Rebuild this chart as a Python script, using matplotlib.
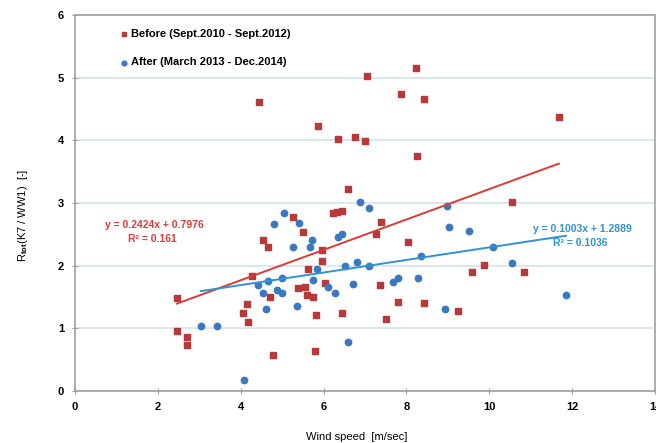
import numpy as np
import matplotlib
matplotlib.use("Agg")
import matplotlib.pyplot as plt

plt.rcParams['font.family'] = ['Liberation Sans', 'DejaVu Sans']
plt.rcParams['font.weight'] = 'bold'
plt.rcParams['mathtext.fontset'] = 'custom'
plt.rcParams['mathtext.rm'] = 'Liberation Sans:bold'
plt.rcParams['mathtext.it'] = 'Liberation Sans:bold'
plt.rcParams['mathtext.bf'] = 'Liberation Sans:bold'

# Before (Sept.2010 - Sept.2012)
before_wind = [2.46, 2.46, 2.70, 2.70, 4.05, 4.15, 4.17, 4.27, 4.44, 4.54, 4.66, 4.70, 4.78,
               5.26, 5.38, 5.50, 5.55, 5.60, 5.62, 5.74, 5.79, 5.81, 5.86, 5.96, 5.96, 6.03,
               6.23, 6.32, 6.35, 6.44, 6.45, 6.59, 6.76, 7.00, 7.04, 7.26, 7.38, 7.36, 7.50,
               7.79, 7.86, 8.03, 8.23, 8.25, 8.42, 8.42, 9.24, 9.58, 9.87, 10.54, 10.83, 11.68]
before_ratio = [1.48, 0.96, 0.86, 0.73, 1.24, 1.39, 1.10, 1.83, 4.61, 2.41, 2.30, 1.50, 0.58,
                2.78, 1.64, 2.54, 1.66, 1.53, 1.95, 1.50, 0.64, 1.21, 4.23, 2.25, 2.07, 1.72,
                2.84, 2.86, 4.02, 2.87, 1.24, 3.22, 4.05, 3.99, 5.02, 2.50, 2.69, 1.69, 1.15,
                1.42, 4.74, 2.38, 5.15, 3.75, 4.66, 1.41, 1.27, 1.90, 2.01, 3.01, 1.90, 4.37]

# After (March 2013 - Dec.2014)
after_wind = [3.04, 3.43, 4.08, 4.42, 4.54, 4.60, 4.66, 4.80, 4.87, 5.00, 5.00, 5.04, 5.26,
              5.35, 5.40, 5.67, 5.72, 5.75, 5.84, 6.10, 6.27, 6.35, 6.44, 6.51, 6.58, 6.71,
              6.80, 6.88, 7.09, 7.09, 7.67, 7.79, 8.27, 8.35, 8.93, 8.97, 9.02, 9.50, 10.10,
              10.54, 11.85]
after_ratio = [1.04, 1.04, 0.17, 1.69, 1.56, 1.31, 1.76, 2.66, 1.61, 1.81, 1.56, 2.84, 2.30,
               1.35, 2.68, 2.30, 2.41, 1.77, 1.95, 1.66, 1.56, 2.46, 2.50, 1.99, 0.78, 1.71,
               2.06, 3.02, 2.92, 2.00, 1.74, 1.80, 1.80, 2.15, 1.31, 2.96, 2.61, 2.55, 2.30,
               2.04, 1.53]

# linear trendlines (slope, intercept, R2) as printed on the chart
before_fit = (0.2424, 0.7976, 0.161)
after_fit = (0.1003, 1.2889, 0.1036)

red = '#b8393a'
blue = '#3a78c0'
red_line = '#dd3a34'
blue_line = '#3192d2'
grey = '#a0a0a0'

fig = plt.figure(figsize=(6.56, 4.43), dpi=100)
ax = fig.add_axes([75 / 656, 1 - 391 / 443, 580 / 656, 376 / 443])

ax.scatter(before_wind, before_ratio, s=21, marker='s', color=red, zorder=3,
           label='Before (Sept.2010 - Sept.2012)')
ax.scatter(after_wind, after_ratio, s=21, marker='o', color=blue, zorder=3,
           label='After (March 2013 - Dec.2014)')

xb = np.array([min(before_wind), max(before_wind)])
ax.plot(xb, before_fit[0] * xb + before_fit[1], color=red_line, lw=1.4, zorder=4)
xa = np.array([min(after_wind), max(after_wind)])
ax.plot(xa, after_fit[0] * xa + after_fit[1], color=blue_line, lw=1.4, zorder=4)

ax.text(1.91, 2.65, 'y = %.4fx + %.4f' % (before_fit[0], before_fit[1]), color=red_line,
        fontsize=7.5, ha='center', va='center')
ax.text(1.86, 2.43, 'R² = %.3f' % before_fit[2], color=red_line, fontsize=7.5,
        ha='center', va='center')
ax.text(12.24, 2.585, 'y = %.4fx + %.4f' % (after_fit[0], after_fit[1]), color=blue_line,
        fontsize=7.5, ha='center', va='center')
ax.text(12.19, 2.36, 'R² = %.4f' % after_fit[2], color=blue_line, fontsize=7.5,
        ha='center', va='center')

ax.set_xlim(0, 14)
ax.set_ylim(0, 6)
ax.set_xticks(range(0, 15, 2))
ax.set_yticks(range(0, 7))
ax.grid(axis='y', color='#d6e3ea', lw=1.2)
ax.set_axisbelow(True)
for s in ax.spines.values():
    s.set_color(grey)
    s.set_linewidth(1.2)
ax.tick_params(direction='inout', length=4, color=grey, labelsize=8, pad=6)

ax.set_xlabel('Wind speed  [m/sec]', fontsize=8)
ax.set_ylabel('R$_{tot}$(K7 / WW1)  [-]', fontsize=8)
ax.xaxis.set_label_coords(0.486, -0.11)
ax.yaxis.set_label_coords(-0.078, 0.468)

ax.legend(loc='upper left', bbox_to_anchor=(0.079, 0.964), frameon=False, fontsize=8,
          handlelength=0.6, handletextpad=0.3, labelspacing=1.7, borderpad=0,
          borderaxespad=0, markerscale=0.75)

plt.savefig('out.png', dpi=100)
